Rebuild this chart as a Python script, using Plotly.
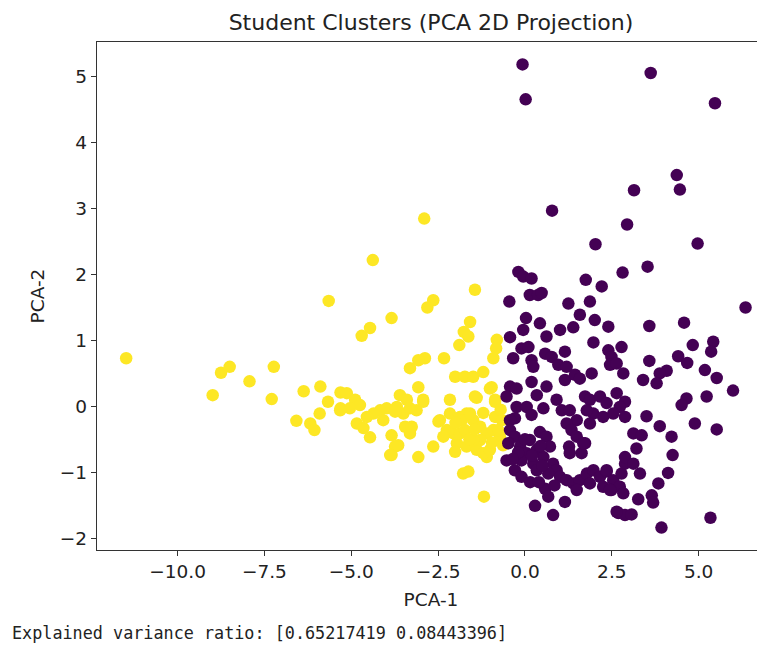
import plotly.graph_objects as go

# ---------------- data ----------------
# cluster with label 1 (yellow, left)
yellow_x = [-11.48, -5.65, -8.50, -8.75, -7.93, -7.23, -8.99, -7.29, -6.37, -5.89, -5.31, -5.67, -5.91,
            -6.58, -6.18, -6.06, -5.31, -2.90, -4.38, -1.44, -2.64, -2.81, -3.84, -4.46, -4.70, -1.58,
            -1.76, -1.63, -1.89, -0.81, -0.83, -0.91, -2.88, -3.07, -3.31, -2.33, -2.01, -1.73, -1.49,
            -1.20, -3.07, -0.96, -0.86, -1.39, -5.13, -4.89, -4.75, -5.04, -5.32, -3.60, -3.40, -2.93,
            -3.12, -3.50, -3.69, -4.17, -4.36, -4.55, -4.84, -4.65, -4.08, -4.46, -3.84, -3.74, -3.84,
            -3.31, -3.45, -3.07, -2.64, -2.16, -2.16, -2.45, -2.25, -2.06, -1.87, -1.68, -1.49, -1.29,
            -1.10, -0.91, -0.72, -1.96, -1.68, -1.39, -1.10, -1.29, -1.87, -1.78, -1.63, -1.18, -1.20,
            -3.98, -3.74, -3.31, -2.93, -3.26, -3.65, -3.88, -2.49, -2.35, -2.01, -1.82, -1.58, -1.44,
            -1.01, -0.86, -1.73, -1.49, -1.01, -0.77, -0.86, -0.66, -0.63, -0.70,
            -1.60, -2.00, -1.20, -0.95, -1.45]
yellow_y = [0.73, 1.60, 0.60, 0.51, 0.38, 0.60, 0.17, 0.11, 0.23, 0.30, 0.21, 0.07, -0.11,
            -0.22, -0.26, -0.36, -0.03, 2.85, 2.22, 1.77, 1.61, 1.50, 1.34, 1.19, 1.07, 1.28,
            1.13, 1.06, 0.93, 1.01, 0.88, 0.73, 0.73, 0.70, 0.58, 0.73, 0.45, 0.45, 0.45,
            0.52, 0.29, 0.29, 0.10, 0.13, 0.20, 0.10, 0.02, -0.03, -0.06, 0.17, 0.10, 0.10,
            -0.06, -0.11, -0.01, -0.06, -0.11, -0.16, -0.26, -0.33, -0.21, -0.47, -0.44, -0.61, -0.74,
            -0.41, -0.31, -0.77, -0.61, 0.10, -0.11, -0.21, -0.36, -0.41, -0.16, -0.11, -0.21, -0.31,
            -0.41, -0.36, -0.46, -0.56, -0.61, -0.66, -0.77, -0.51, -0.41, -1.02, -0.99, -1.37, -0.71,
            -0.03, -0.08, -0.03, 0.07, -0.31, -0.59, -0.74, -0.23, -0.46, -0.69, -0.21, -0.11, 0.15,
            0.27, 0.07, -0.36, -0.51, -0.66, -0.36, -0.16, -0.21, -0.59, -0.05,
            -0.50, -0.25, -0.10, -0.55, -0.35]

# cluster with label 0 (purple, right)
purple_x = [-0.07, 0.02, 3.62, 5.47, 4.37, 4.46, 3.14, 0.78, 2.94, 2.03, 4.97, 3.53, 2.81, -0.19,
            -0.05, 0.19, 1.75, 2.21, -0.45, 0.14, 0.38, 0.48, 1.25, 1.87, 1.58, 6.35, 0.03, 0.43,
            -0.05, 0.62, -0.43, 1.01, 1.39, 2.01, 2.40, 3.58, 4.58, 1.97, -0.10, 0.10, -0.34, 0.19,
            0.24, 0.58, 0.77, 1.15, 0.96, 1.20, 1.15, 1.44, 1.58, 1.92, 2.40, 2.49, 2.45, 2.78,
            2.83, 2.64, 3.58, 4.83, 5.42, 5.36, 4.41, 4.67, 4.08, 3.88, 3.79, 3.40, 5.18, 5.52,
            5.99, 5.23, 4.65, 4.51, 2.88, 0.19, -0.43, -0.24, -0.53, 0.34, 0.62, -0.24, 0.05, 0.19,
            0.53, -0.29, 0.91, 1.06, 1.29, 1.49, 1.20, 1.34, 1.73, 1.87, 2.16, 2.35, 2.64, 2.73,
            1.97, 1.78, 2.25, 2.54, 2.88, 1.87, 1.49, 1.73, 1.63, -0.43, -0.43, -0.29, -0.48, -0.14,
            0.14, 0.43, 0.62, 0.72, 0.34, 0.05, -0.10, -0.53, -0.29, -0.10, 0.24, 0.53, 0.81, 0.91,
            0.67, 0.34, 1.01, 1.20, 1.39, 1.58, 1.78, 1.97, 2.16, 2.35, 2.54, 2.78, 2.88, 1.87,
            2.25, 2.49, 1.49, 1.27, 1.29, 1.68, 0.58, 0.67, 1.15, 0.29, 0.81, 2.69, 2.88, 3.50,
            3.88, 4.89, 5.52, 3.12, 3.36, 4.22, 4.25, 3.21, 2.88, 3.12, 3.31, 4.12, 3.84, 2.35,
            2.73, 2.45, 2.83, 3.26, 3.65, 3.69, 2.64, 3.07, 3.93, 5.34,
            -0.20, 0.20, 0.45, 0.00, -0.35, 0.50, 0.15, 0.85, 0.40]
purple_y = [5.19, 4.66, 5.06, 4.60, 3.51, 3.29, 3.28, 2.97, 2.76, 2.46, 2.47, 2.12, 2.03, 2.04,
            1.97, 1.94, 1.92, 1.82, 1.59, 1.69, 1.69, 1.72, 1.56, 1.59, 1.39, 1.50, 1.34, 1.26,
            1.16, 1.06, 1.05, 1.16, 1.20, 1.31, 1.21, 1.22, 1.27, 0.97, 0.88, 0.90, 0.73, 0.70,
            0.60, 0.80, 0.75, 0.83, 0.63, 0.60, 0.40, 0.48, 0.42, 0.50, 0.85, 0.75, 0.63, 0.90,
            0.50, 0.65, 0.69, 0.93, 0.98, 0.83, 0.76, 0.66, 0.54, 0.50, 0.35, 0.40, 0.55, 0.43,
            0.24, 0.15, 0.12, 0.02, 0.07, 0.37, 0.30, 0.27, 0.15, 0.17, 0.30, -0.01, -0.01, -0.13,
            -0.03, -0.18, 0.10, -0.06, -0.06, -0.21, -0.26, -0.36, 0.15, 0.10, 0.15, 0.05, 0.20, -0.01,
            -0.11, -0.06, -0.16, -0.11, -0.16, -0.26, -0.46, -0.56, -0.71, -0.21, -0.36, -0.46, -0.56, -0.61,
            -0.51, -0.39, -0.46, -0.61, -0.66, -0.71, -0.82, -0.82, -0.97, -1.07, -0.87, -0.77, -0.87, -0.97,
            -1.02, -0.97, -1.07, -1.12, -1.17, -1.12, -1.02, -0.97, -1.07, -0.99, -1.12, -1.02, -0.87, -1.17,
            -1.22, -1.27, -1.27, -0.61, -0.71, -0.56, -1.25, -1.37, -1.45, -1.51, -1.65, -1.62, -1.65, -0.15,
            -0.30, -0.26, -0.35, -0.41, -0.44, -0.46, -0.74, -0.64, -0.77, -0.87, -1.02, -1.01, -1.17, -0.97,
            -1.22, -1.27, -1.32, -1.41, -1.35, -1.46, -1.60, -1.64, -1.84, -1.69,
            -0.70, -0.75, -0.60, -0.50, -0.80, -0.90, -1.15, -1.20, -1.15]

x_tickvals = [-10, -7.5, -5, -2.5, 0, 2.5, 5]
x_ticktext = ["\u221210.0", "\u22127.5", "\u22125.0", "\u22122.5", "0.0", "2.5", "5.0"]
y_tickvals = [-2, -1, 0, 1, 2, 3, 4, 5]
y_ticktext = ["\u22122", "\u22121", "0", "1", "2", "3", "4", "5"]

title_text = "Student Clusters (PCA 2D Projection)"
x_label = "PCA-1"
y_label = "PCA-2"
footer_text = "Explained variance ratio: [0.65217419 0.08443396]"

# ---------------- figure ----------------
# the page body adds an 8px offset, so the figure is 8px smaller and shifted
W, H = 757, 640
ML, MR, MT, MB = 89, 0, 34, 98
plot_w = W - ML - MR
plot_h = H - MT - MB

fig = go.Figure()
fig.add_trace(go.Scatter(x=yellow_x, y=yellow_y, mode="markers",
                         marker=dict(size=12.5, color="#fde725", line=dict(width=0)),
                         showlegend=False, hoverinfo="x+y"))
fig.add_trace(go.Scatter(x=purple_x, y=purple_y, mode="markers",
                         marker=dict(size=12.5, color="#440154", line=dict(width=0)),
                         showlegend=False, hoverinfo="x+y"))

axis_font = dict(family="DejaVu Sans", size=18.5, color="#222222")

fig.update_layout(
    width=W, height=H, autosize=False,
    margin=dict(l=ML, r=MR, t=MT, b=MB, pad=0),
    paper_bgcolor="white", plot_bgcolor="white",
    font=dict(family="DejaVu Sans", color="#222222"),
    title=dict(text=title_text, x=(ML + plot_w / 2) / W, xanchor="center",
               y=1 - 14 / H, yanchor="middle", yref="container",
               font=dict(family="DejaVu Sans", size=22, color="#222222")),
    xaxis=dict(range=[-12.32, 6.91], tickvals=x_tickvals, ticktext=x_ticktext,
               showgrid=False, zeroline=False, showline=True, mirror=True,
               linecolor="#333333", linewidth=1.3, ticks="outside", ticklen=5,
               tickwidth=1.2, tickcolor="#333333", tickfont=axis_font,
               title=dict(text=x_label, font=axis_font, standoff=11)),
    yaxis=dict(range=[-2.18, 5.53], tickvals=y_tickvals, ticktext=y_ticktext,
               showgrid=False, zeroline=False, showline=True, mirror=False,
               linecolor="#333333", linewidth=1.3, ticks="outside", ticklen=5,
               tickwidth=1.2, tickcolor="#333333", tickfont=axis_font,
               title=dict(text=y_label, font=axis_font, standoff=10)),
)

fig.add_annotation(text=footer_text, xref="paper", yref="paper",
                   x=(2 - ML) / plot_w, y=-(625 - (H - MB)) / plot_h,
                   xanchor="left", yanchor="middle", showarrow=False,
                   font=dict(family="DejaVu Sans Mono", size=16.8, color="#222222"))

fig.write_html("out.html")
